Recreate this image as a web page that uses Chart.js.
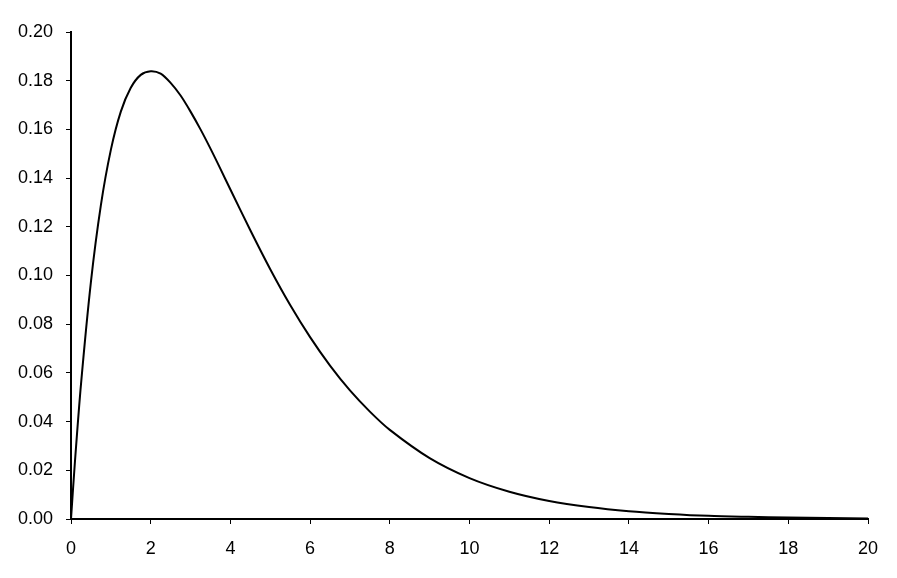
<!DOCTYPE html>
<html><head><meta charset="utf-8">
<script src="https://cdn.jsdelivr.net/npm/chart.js@4"></script>
<style>html,body{margin:0;padding:0;background:#fff}#w{width:897px;height:578px}</style>
</head><body><div id="w"><canvas id="c"></canvas></div>
<script>
const xValues = [0,0.1,0.25,0.5,0.75,1,1.25,1.5,1.75,2,2.25,2.5,2.75,3,3.25,3.5,3.75,4,4.5,5,5.5,6,6.5,7,7.5,8,9,10,11,12,13,14,15,16,17,18,19,20];
const yValues = [0,0.0238,0.0552,0.0974,0.1289,0.1516,0.1673,0.1771,0.1824,0.1839,0.1829,0.1791,0.1739,0.1673,0.1600,0.1521,0.1438,0.1353,0.1186,0.1026,0.0879,0.0747,0.0630,0.0528,0.0441,0.0366,0.0250,0.0168,0.0112,0.0074,0.0049,0.0032,0.0021,0.0013,0.0009,0.0006,0.0004,0.0002];
const xTicks = [0,2,4,6,8,10,12,14,16,18,20];
const yTicks = [0,0.02,0.04,0.06,0.08,0.10,0.12,0.14,0.16,0.18,0.20];

const pts = xValues.map((x,i)=>({x:x,y:yValues[i]}));
Chart.defaults.font.family = '"Liberation Sans", Arial, sans-serif';
Chart.defaults.font.size = 18;
Chart.defaults.color = '#000';
new Chart(document.getElementById('c'), {
  type: 'scatter',
  data: { datasets: [{ data: pts, showLine: true, borderColor: '#000', borderWidth: 2, pointRadius: 0, tension: 0.3, fill: false }] },
  options: {
    responsive: true, maintainAspectRatio: false, animation: false,
    layout: { padding: { top: 32, right: 29, left: 0, bottom: 0 } },
    plugins: { legend: { display: false }, tooltip: { enabled: false } },
    scales: {
      x: {
        type: 'linear', min: 0, max: 20,
        afterBuildTicks: s => { s.ticks = xTicks.map(v=>({value:v})); },
        afterFit: s => { s.height = 59; },
        grid: { drawOnChartArea: false, tickLength: 5, color: '#000', lineWidth: 1 },
        border: { color: '#000', width: 2 },
        ticks: { padding: 14, maxRotation: 0, callback: v => String(v) }
      },
      y: {
        type: 'linear', min: 0, max: 0.2,
        afterBuildTicks: s => { s.ticks = yTicks.map(v=>({value:v})); },
        afterFit: s => { s.width = 71; },
        grid: { drawOnChartArea: false, tickLength: 5, color: '#000', lineWidth: 1 },
        border: { color: '#000', width: 2 },
        ticks: { padding: 13, callback: v => v.toFixed(2) }
      }
    }
  }
});
</script></body></html>
